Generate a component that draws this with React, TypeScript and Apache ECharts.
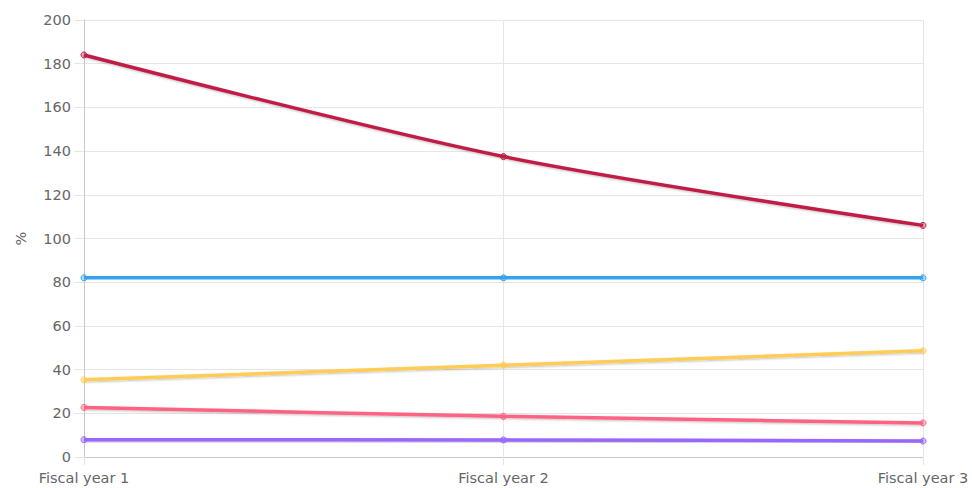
import React, { useEffect, useRef } from "react";
import * as echarts from "echarts";

const categories = ["Fiscal year 1", "Fiscal year 2", "Fiscal year 3"];
const crimsonValues = [184, 137.5, 106];
const blueValues = [82, 82, 82];
const yellowValues = [35.3, 42, 48.6];
const pinkValues = [22.7, 18.6, 15.6];
const purpleValues = [7.9, 7.8, 7.3];
const seriesColors = ["#c11f45", "#36a2eb", "#ffcd56", "#ff6384", "#9966ff"];

const fontFamily = "'DejaVu Sans', sans-serif";

function lineSeries(data: number[], color: string, shadow: boolean) {
  return {
    type: "line",
    data,
    smooth: 0.3,
    symbol: "circle",
    symbolSize: 6,
    showSymbol: true,
    lineStyle: shadow
      ? {
          color,
          width: 3.5,
          shadowColor: "rgba(0,0,0,0.25)",
          shadowBlur: 2,
          shadowOffsetY: 1,
        }
      : { color, width: 3.5 },
    itemStyle: {
      color: echarts.color.modifyAlpha(color, 0.4),
      borderColor: color,
      borderWidth: 1,
    },
  };
}

export default function App() {
  const ref = useRef<HTMLDivElement>(null);

  useEffect(() => {
    if (!ref.current) return;
    const chart = echarts.init(ref.current, undefined, { renderer: "svg" });
    chart.setOption({
      animation: false,
      grid: { left: 84, right: 49, top: 20, bottom: 31, containLabel: false },
      xAxis: {
        type: "category",
        data: categories,
        boundaryGap: false,
        axisLine: { show: true, lineStyle: { color: "#c8c8c8", width: 1 } },
        axisTick: { show: true, length: 8, lineStyle: { color: "#e6e6e6" } },
        axisLabel: {
          color: "#666",
          fontSize: 14.5,
          fontFamily,
          margin: 13,
          showMinLabel: true,
          showMaxLabel: true,
        },
        splitLine: { show: true, lineStyle: { color: "#e6e6e6" } },
      },
      yAxis: {
        type: "value",
        min: 0,
        max: 200,
        interval: 20,
        name: "%",
        nameLocation: "middle",
        nameGap: 56,
        nameRotate: 90,
        nameTextStyle: { color: "#666", fontSize: 14.5, fontFamily },
        axisLine: { show: true, lineStyle: { color: "#c8c8c8", width: 1 } },
        axisTick: { show: true, length: 10, lineStyle: { color: "#e6e6e6" } },
        axisLabel: { color: "#666", fontSize: 14.5, fontFamily, margin: 13 },
        splitLine: { show: true, lineStyle: { color: "#e6e6e6" } },
      },
      series: [
        lineSeries(crimsonValues, seriesColors[0], true),
        lineSeries(blueValues, seriesColors[1], false),
        lineSeries(yellowValues, seriesColors[2], true),
        lineSeries(pinkValues, seriesColors[3], true),
        lineSeries(purpleValues, seriesColors[4], true),
      ],
    });
    return () => chart.dispose();
  }, []);

  return (
    <div
      ref={ref}
      style={{ width: 972, height: 488, position: "absolute", left: 0, top: 0 }}
    />
  );
}
